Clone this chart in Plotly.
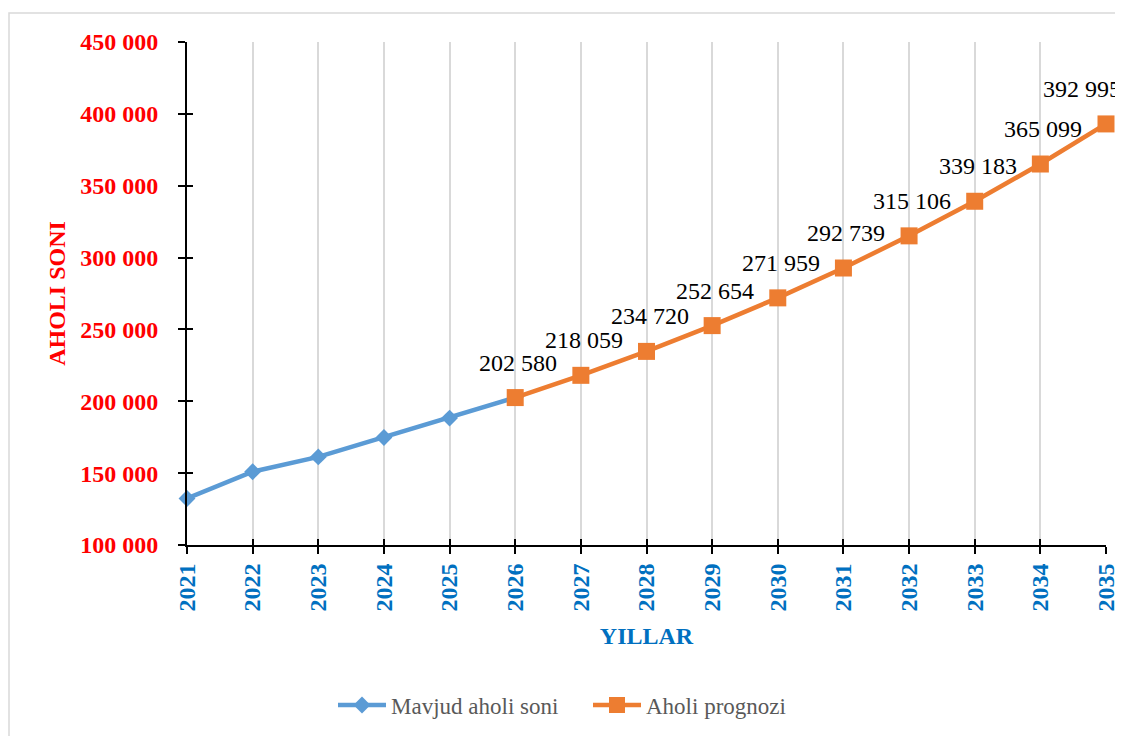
import plotly.graph_objects as go

# Data
years_actual = [2021, 2022, 2023, 2024, 2025, 2026]
pop_actual = [132400, 151000, 161300, 174800, 188300, 202580]
years_forecast = [2026, 2027, 2028, 2029, 2030, 2031, 2032, 2033, 2034, 2035]
pop_forecast = [202580, 218059, 234720, 252654, 271959, 292739, 315106, 339183, 365099, 392995]
y_ticks = [100000, 150000, 200000, 250000, 300000, 350000, 400000, 450000]
x_ticks = list(range(2021, 2036))

BLUE = "#5B9BD5"
ORANGE = "#ED7D31"
FONT = "Liberation Serif"


def fmt(v):
    return f"{v:,}".replace(",", " ")


fig = go.Figure()
fig.add_trace(go.Scatter(
    x=years_actual, y=pop_actual, name="Mavjud aholi soni", mode="lines+markers",
    line=dict(color=BLUE, width=4.5),
    marker=dict(symbol="diamond", size=13, color=BLUE),
    cliponaxis=False,
))
fig.add_trace(go.Scatter(
    x=years_forecast, y=pop_forecast, name="Aholi prognozi", mode="lines+markers",
    line=dict(color=ORANGE, width=4.5),
    marker=dict(symbol="square", size=17, color=ORANGE),
    cliponaxis=False,
))

annotations = []
for yr, v in zip(years_forecast, pop_forecast):
    annotations.append(dict(
        x=yr, y=v, xref="x", yref="y", text=fmt(v), showarrow=False,
        yshift=35, xshift=(3 if yr != years_forecast[-1] else -24),
        font=dict(family=FONT, size=24, color="black"),
    ))

# page has an 8px body margin; figure coordinates are page coordinates - 8
W, H = 1123, 736
L, T = 179, 34
R, B = W - 1098, H - 537
pw, ph = W - L - R, H - T - B

shapes = [dict(
    type="rect", xref="paper", yref="paper",
    x0=(1 - L) / pw, x1=(W + 10 - L) / pw,
    y0=(H - B - (H + 10)) / ph, y1=(H - B - 5) / ph,
    line=dict(color="#D9D9D9", width=1.5), fillcolor="rgba(0,0,0,0)", layer="below",
)]

fig.update_layout(
    width=W, height=H,
    margin=dict(l=L, r=R, t=T, b=B, autoexpand=False),
    paper_bgcolor="white", plot_bgcolor="white",
    font=dict(family=FONT),
    showlegend=True,
    legend=dict(
        orientation="h", x=(325 - L) / pw, xanchor="left",
        y=(H - B - 697) / ph, yanchor="middle",
        font=dict(family=FONT, size=23, color="#595959"),
        itemwidth=48, entrywidth=192, entrywidthmode="pixels",
    ),
    annotations=annotations,
    shapes=shapes,
    xaxis=dict(
        range=[2021, 2035], tickvals=x_ticks, ticktext=[str(x) for x in x_ticks],
        tickangle=-90, tickfont=dict(family=FONT, size=24, color="#0070C0", weight="bold"),
        showgrid=True, gridcolor="#D9D9D9", gridwidth=1.5,
        showline=True, linecolor="black", linewidth=2,
        ticks="outside", ticklen=7, tickwidth=2, tickcolor="black",
        ticklabelstandoff=0, zeroline=False,
        title=dict(text="YILLAR", font=dict(family=FONT, size=24, color="#0070C0", weight="bold"), standoff=17),
    ),
    yaxis=dict(
        range=[100000, 450000], tickvals=y_ticks, ticktext=[fmt(v) for v in y_ticks],
        tickfont=dict(family=FONT, size=24, color="#FF0000", weight="bold"),
        showgrid=False, showline=True, linecolor="black", linewidth=2,
        ticks="outside", ticklen=7, tickwidth=2, tickcolor="black",
        ticklabelstandoff=15, zeroline=False,
        title=dict(text="AHOLI SONI", font=dict(family=FONT, size=24, color="#FF0000", weight="bold"), standoff=8),
    ),
    xaxis2=dict(
        range=[2021, 2035], tickvals=x_ticks, overlaying="x", side="bottom",
        showticklabels=False, showgrid=False, showline=False, zeroline=False,
        ticks="inside", ticklen=6, tickwidth=2, tickcolor="black", anchor="y",
    ),
    yaxis2=dict(
        range=[100000, 450000], tickvals=y_ticks, overlaying="y", side="left",
        showticklabels=False, showgrid=False, showline=False, zeroline=False,
        ticks="inside", ticklen=6, tickwidth=2, tickcolor="black", anchor="x",
    ),
)

# invisible trace to activate secondary axes for the crossing ticks
fig.add_trace(go.Scatter(x=[2021], y=[100000], xaxis="x2", yaxis="y2",
                         mode="markers", marker=dict(opacity=0), showlegend=False,
                         hoverinfo="skip"))

fig.write_html("out.html")
